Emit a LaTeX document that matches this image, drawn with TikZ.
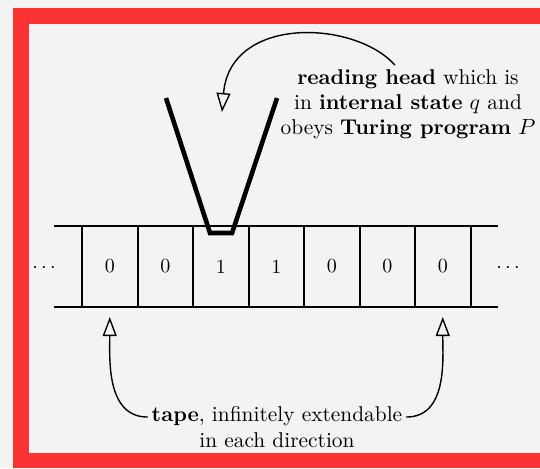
\documentclass[tikz,border=0pt]{standalone}
\usetikzlibrary{arrows.meta}
\definecolor{bg}{RGB}{243,243,243}
\definecolor{framered}{RGB}{252,51,51}
\tikzset{
  cell/.style={draw, line width=1pt, minimum width=27.75pt, minimum height=40.5pt, inner sep=0pt, outer sep=0pt, anchor=center},
  tapeline/.style={line width=1pt},
  headline/.style={line width=2.3pt, line join=miter},
  pointer/.style={line width=0.7pt, -{Triangle[open, length=9.5pt, width=7pt]}},
  note/.style={align=center, inner sep=0pt, outer sep=0pt},
}
\begin{document}
\begin{tikzpicture}[x=0.5pt,y=-0.5pt]
\useasboundingbox (0,0) rectangle (540,468);
\fill[bg] (0,0) rectangle (540,468);
\fill[framered] (13,8) rectangle (540,468);
\fill[bg] (29,24) rectangle (540,453);
% tape
\foreach \i/\d in {1/0,2/0,3/1,4/1,5/0,6/0,7/0}
  \node[cell] (c\i) at ({82+55.5*(\i-0.5)},266.5) {\d};
\draw[tapeline] (c1.north west) -- ++(-28,0);
\draw[tapeline] (c1.south west) -- ++(-28,0);
\draw[tapeline] (c7.north east) -- ++(27,0);
\draw[tapeline] (c7.south east) -- ++(27,0);
\node[anchor=base] (ldots) at (44,272) {$\cdots$};
\node[anchor=base] (rdots) at (508,272) {$\cdots$};
% head
\draw[headline] (166,98) -- (210,233) -- (232,233) -- (277,98);
\coordinate (headin) at (222,112);
% labels
\node[note, font=\fontsize{10.7}{12.4}\selectfont] (headnote) at (408,104) {\textbf{reading head} which is\\ in \textbf{internal state} $q$ and\\ obeys \textbf{Turing program} $P$};
\draw[pointer] ([shift={(-6.5pt,2.2pt)}]headnote.north) .. controls (355,20) and (230,15) .. (headin);
\node[note, font=\fontsize{10.7}{13}\selectfont] (tapenote) at (277,427.5) {\textbf{tape}, infinitely extendable\\ in each direction};
\coordinate (tl) at ([shift={(-2pt,-5.1pt)}]tapenote.north west);
\coordinate (tr) at ([shift={(2pt,-5.1pt)}]tapenote.north east);
\draw[pointer] (tl) to[out=180,in=-90] ([yshift=-5pt]c1.south);
\draw[pointer] (tr) to[out=0,in=-90] ([yshift=-5pt]c7.south);
\end{tikzpicture}
\end{document}
